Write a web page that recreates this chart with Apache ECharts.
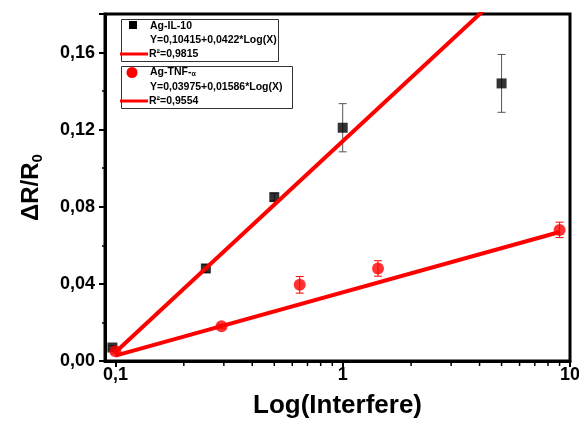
<!DOCTYPE html>
<html><head><meta charset="utf-8">
<script src="https://cdn.jsdelivr.net/npm/echarts@6/dist/echarts.min.js"></script>
<style>html,body{margin:0;padding:0;background:#fff}#c{width:579px;height:421px}</style>
</head><body><div id="c"></div>
<script>
// Ag-IL-10 data
const ilX = [0.097, 0.25, 0.5, 1, 5];
const ilY = [0.007, 0.048, 0.085, 0.121, 0.144];
const ilErr = [0.001, 0.002, 0.002, 0.0125, 0.015];
// Ag-TNF-α data
const tnfX = [0.1, 0.293, 0.647, 1.43, 9];
const tnfY = [0.005, 0.018, 0.0395, 0.048, 0.068];
const tnfErr = [0.001, 0.001, 0.0043, 0.004, 0.004];
// fitted lines (as drawn)
const ilFitX = [0.1, 10];
const ilFitY = [0.0045, 0.2235];
const tnfFitX = [0.1, 9];
const tnfFitY = [0.0028, 0.0669];
// minor tick positions on the log x axis
const xMinorTicks = [0.2, 0.3, 0.4, 0.5, 0.6, 0.7, 0.8, 0.9, 2, 3, 4, 5, 6, 7, 8, 9];
// legend texts
const ilName = 'Ag-IL-10';
const ilEq = 'Y=0,10415+0,0422*Log(X)';
const ilR2 = 'R²=0,9815';
const tnfEq = 'Y=0,03975+0,01586*Log(X)';
const tnfR2 = 'R²=0,9554';

const FONT = 'Liberation Sans, Arial, sans-serif';
const LF = 'bold 10.5px ' + FONT;
const zip = (a, b) => a.map((v, i) => [v, b[i]]);
const zip3 = (a, b, c) => a.map((v, i) => [v, b[i], c[i]]);

function errRender(color) {
  return function (params, api) {
    const x = api.value(0), y = api.value(1), e = api.value(2);
    const t = api.coord([x, y + e]), b = api.coord([x, y - e]);
    const w = 4;
    const st = { stroke: color, lineWidth: 1 };
    return { type: 'group', children: [
      { type: 'line', shape: { x1: t[0], y1: t[1], x2: b[0], y2: b[1] }, style: st },
      { type: 'line', shape: { x1: t[0] - w, y1: t[1], x2: t[0] + w, y2: t[1] }, style: st },
      { type: 'line', shape: { x1: b[0] - w, y1: b[1], x2: b[0] + w, y2: b[1] }, style: st }
    ]};
  };
}

const chart = echarts.init(document.getElementById('c'));
chart.setOption({
  animation: false,
  backgroundColor: '#fff',
  grid: { left: 105, right: 9, top: 14, bottom: 60, show: true, borderColor: '#000', borderWidth: 3, containLabel: false, outerBoundsMode: 'none' },
  xAxis: {
    type: 'log', logBase: 10, min: 0.09, max: 10,
    name: 'Log(Interfere)', nameLocation: 'middle', nameGap: 32,
    nameTextStyle: { fontFamily: FONT, fontWeight: 'bold', fontSize: 26, color: '#000' },
    axisLine: { lineStyle: { color: '#000', width: 3 } },
    axisTick: { inside: false, length: 6, lineStyle: { color: '#000', width: 2 } },
    splitLine: { show: false },
    axisLabel: {
      showMinLabel: false, margin: 5,
      fontFamily: FONT, fontWeight: 'bold', fontSize: 18, color: '#000',
      formatter: v => String(+v.toPrecision(6)).replace('.', ',')
    }
  },
  yAxis: {
    type: 'value', min: 0, max: 0.18, interval: 0.04,
    name: '{a|ΔR/R}{b|0}', nameLocation: 'middle', nameGap: 60,
    nameTextStyle: { rich: {
      a: { fontFamily: FONT, fontWeight: 'bold', fontSize: 24, color: '#000' },
      b: { fontFamily: FONT, fontWeight: 'bold', fontSize: 15, color: '#000', verticalAlign: 'bottom', padding: [12, 0, 0, 0] }
    } },
    axisLine: { lineStyle: { color: '#000', width: 3 } },
    axisTick: { inside: false, length: 6, lineStyle: { color: '#000', width: 2 } },
    minorTick: { show: true, splitNumber: 2, length: 3, lineStyle: { color: '#000', width: 1.5 } },
    splitLine: { show: false },
    axisLabel: {
      showMaxLabel: false, margin: 10,
      fontFamily: FONT, fontWeight: 'bold', fontSize: 18, color: '#000',
      formatter: v => v.toFixed(2).replace('.', ',')
    }
  },
  series: [
    { type: 'custom', clip: false, silent: true, z: 1,
      data: xMinorTicks.map(v => [v, 0]),
      renderItem: (params, api) => {
        const p = api.coord([api.value(0), api.value(1)]);
        return { type: 'line', shape: { x1: p[0], y1: p[1], x2: p[0], y2: p[1] + 5 }, style: { stroke: '#000', lineWidth: 1.5 } };
      } },
    { type: 'custom', z: 2, data: zip3(ilX, ilY, ilErr), renderItem: errRender('#555') },
    { type: 'scatter', z: 3, symbol: 'rect', symbolSize: 10, itemStyle: { color: '#000' }, data: zip(ilX, ilY) },
    { type: 'line', z: 4, data: zip(ilFitX, ilFitY), showSymbol: false, lineStyle: { color: '#ff0000', width: 4 } },
    { type: 'line', z: 4, data: zip(tnfFitX, tnfFitY), showSymbol: false, lineStyle: { color: '#ff0000', width: 4 } },
    { type: 'custom', z: 5, data: zip3(tnfX, tnfY, tnfErr), renderItem: errRender('#ff0000') },
    { type: 'scatter', z: 6, symbol: 'circle', symbolSize: 12, itemStyle: { color: '#ff0000' }, data: zip(tnfX, tnfY) }
  ],
  graphic: [
    { type: 'rect', left: 121, top: 19, shape: { width: 157, height: 42 }, style: { fill: '#fff', stroke: '#333', lineWidth: 1 }, z: 10 },
    { type: 'rect', left: 121, top: 66, shape: { width: 171, height: 42 }, style: { fill: '#fff', stroke: '#333', lineWidth: 1 }, z: 10 },
    { type: 'rect', shape: { x: 129, y: 21, width: 8, height: 8 }, style: { fill: '#000' }, z: 11 },
    { type: 'text', x: 150, y: 26, style: { text: ilName, font: LF, fill: '#000', verticalAlign: 'middle' }, z: 11 },
    { type: 'text', x: 150, y: 40.5, style: { text: ilEq, font: LF, fill: '#000', verticalAlign: 'middle' }, z: 11 },
    { type: 'line', shape: { x1: 120, y1: 54, x2: 148, y2: 54 }, style: { stroke: '#ff0000', lineWidth: 3 }, z: 11 },
    { type: 'text', x: 149, y: 54, style: { text: ilR2, font: LF, fill: '#000', verticalAlign: 'middle' }, z: 11 },
    { type: 'circle', shape: { cx: 132, cy: 72.5, r: 5.5 }, style: { fill: '#ff0000' }, z: 11 },
    { type: 'text', x: 150, y: 72.5, style: { text: '{a|Ag-TNF-}{b|α}', rich: { a: { font: LF, fill: '#000' }, b: { font: 'bold 7px ' + FONT, fill: '#000', padding: [3, 0, 0, 0] } }, verticalAlign: 'middle' }, z: 11 },
    { type: 'text', x: 150, y: 87, style: { text: tnfEq, font: LF, fill: '#000', verticalAlign: 'middle' }, z: 11 },
    { type: 'line', shape: { x1: 120, y1: 101, x2: 148, y2: 101 }, style: { stroke: '#ff0000', lineWidth: 3 }, z: 11 },
    { type: 'text', x: 149, y: 101, style: { text: tnfR2, font: LF, fill: '#000', verticalAlign: 'middle' }, z: 11 }
  ]
});
</script>
</body></html>
